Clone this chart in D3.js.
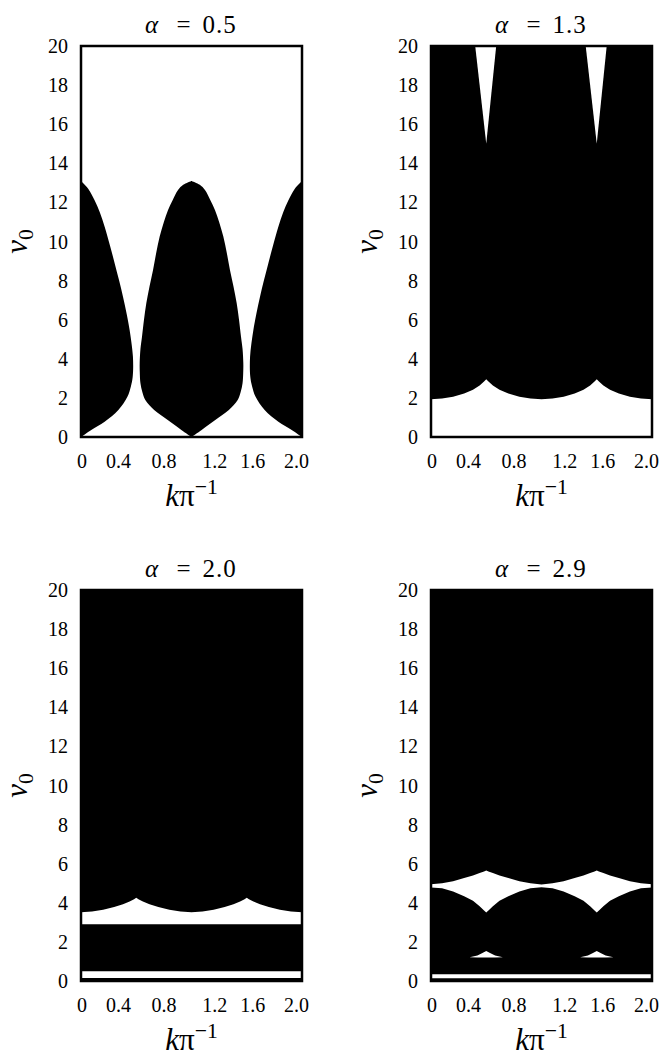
<!DOCTYPE html>
<html><head><meta charset="utf-8">
<script src="https://cdn.jsdelivr.net/npm/d3@7"></script>
</head><body style="margin:0">
<svg id="chart" width="665" height="1057"></svg>
<script>
// ---------------- data ----------------
const alphaValues = ["0.5", "1.3", "2.0", "2.9"];
const xTickLabels = ["0", "0.4", "0.8", "1.2", "1.6", "2.0"];
const xTickPositions = [0.01, 0.34, 0.75, 1.21, 1.555, 1.95];
const yTickValues = [0, 2, 4, 6, 8, 10, 12, 14, 16, 18, 20];

// alpha = 0.5 : black lobes ; half-width in k versus v0
const centreLobeK = [1];
const centreLobeV  = [0, 0.36, 0.87, 1.38, 1.89, 2.3, 2.75, 3.3, 3.77, 4.5, 5.13, 6.0, 6.84, 7.7, 8.54, 9.4, 10.25, 11.0, 11.6, 12.1, 12.63, 12.9, 13.1];
const centreLobeHW = [0, 0.092, 0.215, 0.338, 0.418, 0.445, 0.462, 0.468, 0.469, 0.462, 0.448, 0.43, 0.409, 0.38, 0.348, 0.32, 0.288, 0.25, 0.213, 0.172, 0.122, 0.075, 0];
const sideLobeK = [0, 2];
const sideLobeV  = [0, 0.36, 0.78, 1.38, 2.06, 2.6, 3.08, 4.1, 5.47, 6.3, 7.18, 8.0, 8.88, 9.8, 10.76, 11.5, 12.1, 12.7, 13.1];
const sideLobeHW = [0, 0.093, 0.214, 0.338, 0.42, 0.452, 0.468, 0.47, 0.44, 0.413, 0.38, 0.345, 0.305, 0.262, 0.214, 0.17, 0.124, 0.065, 0];

// common k grid for the periodic boundaries
const kGrid = [0, 0.1, 0.2, 0.3, 0.38, 0.44, 0.48, 0.5, 0.52, 0.56, 0.62, 0.7, 0.8, 0.9, 1.0,
               1.1, 1.2, 1.3, 1.38, 1.44, 1.48, 1.5, 1.52, 1.56, 1.62, 1.7, 1.8, 1.9, 2.0];

// alpha = 1.3 : white region above v0 = 0, its upper edge
const edge13 = [1.93, 1.97, 2.06, 2.22, 2.42, 2.64, 2.84, 2.95, 2.84, 2.64, 2.42, 2.22, 2.06, 1.97, 1.93,
                1.97, 2.06, 2.22, 2.42, 2.64, 2.84, 2.95, 2.84, 2.64, 2.42, 2.22, 2.06, 1.97, 1.93];
// alpha = 1.3 : white wedges hanging from the top
const wedgeK13 = [[0.40, 0.50, 0.59], [1.40, 1.50, 1.59]];
const wedgeV13 = [20, 15.0, 20];

// alpha = 2.0 : white strips
const strip20 = [0.15, 0.50];
const band20Low = 2.9;
const band20High = [3.52, 3.55, 3.64, 3.79, 3.93, 4.07, 4.18, 4.26, 4.18, 4.07, 3.93, 3.79, 3.64, 3.55, 3.52,
                    3.55, 3.64, 3.79, 3.93, 4.07, 4.18, 4.26, 4.18, 4.07, 3.93, 3.79, 3.64, 3.55, 3.52];

// alpha = 2.9 : white strips
const strip29 = [0.14, 0.34];
const band29Low  = [4.78, 4.75, 4.58, 4.34, 4.10, 3.82, 3.60, 3.50, 3.60, 3.82, 4.10, 4.34, 4.58, 4.75, 4.80,
                    4.75, 4.58, 4.34, 4.10, 3.82, 3.60, 3.50, 3.60, 3.82, 4.10, 4.34, 4.58, 4.75, 4.78];
const band29High = [4.95, 5.00, 5.10, 5.27, 5.40, 5.52, 5.60, 5.65, 5.60, 5.52, 5.40, 5.27, 5.10, 5.00, 4.93,
                    5.00, 5.10, 5.27, 5.40, 5.52, 5.60, 5.65, 5.60, 5.52, 5.40, 5.27, 5.10, 5.00, 4.95];
const sliverK = [[0.35, 0.42, 0.47, 0.50, 0.53, 0.58, 0.65], [1.35, 1.42, 1.47, 1.50, 1.53, 1.58, 1.65]];
const sliverLow  = [1.21, 1.20, 1.20, 1.20, 1.20, 1.20, 1.21];
const sliverHigh = [1.21, 1.31, 1.44, 1.53, 1.44, 1.31, 1.21];

// ---------------- layout ----------------
const FONT_LIST = "Liberation Serif, Tinos, Times New Roman, FreeSerif";
const cv = document.createElement("canvas").getContext("2d");
cv.font = "20px 'Liberation Serif', monospace"; cv.measureText("abcdefghijklmnop0123");
cv.font = "20px 'Liberation Serif', sans-serif"; cv.measureText("abcdefghijklmnop0123");

const svg = d3.select("#chart");
const W = 221, H = 391;
const panelOrigins = [[81, 46], [431, 46], [81, 590], [431, 590]];
const x = d3.scaleLinear().domain([0, 2]).range([0, W]);
const y = d3.scaleLinear().domain([0, 20]).range([H, 0]);

const TICK_FS = 20, TITLE_FS = 25, LABEL_FS = 31;

// ---- texts first, directly on the svg root ----
function txt(px, py, fs, anchor) {
  return svg.append("text").attr("x", px).attr("y", py)
    .attr("font-size", fs).attr("font-family", FONT_LIST)
    .attr("text-anchor", anchor);
}

alphaValues.forEach((alpha, i) => {
  const [ox, oy] = panelOrigins[i];
  const cx = ox + W / 2;
  // title
  txt(cx - 40, oy - 13, TITLE_FS, "middle").attr("font-style", "italic").text("α");
  txt(cx - 8, oy - 13, TITLE_FS, "middle").text("=");
  txt(cx + 28, oy - 13, TITLE_FS, "middle").attr("letter-spacing", 1).text(alpha);
  // y tick labels
  yTickValues.forEach(v => {
    txt(ox - 13, oy + y(v) + 7, TICK_FS, "end").text(String(v));
  });
  // x tick labels
  xTickLabels.forEach((lab, j) => {
    txt(ox + x(xTickPositions[j]), oy + H + 31, TICK_FS, "middle").text(lab);
  });
  // x label
  const xl = txt(cx, oy + H + 69, LABEL_FS, "middle");
  xl.append("tspan").attr("font-style", "italic").text("k");
  xl.append("tspan").text("π");
  xl.append("tspan").attr("font-size", LABEL_FS * 0.7).attr("dy", -12).text("−1");
  // y label (rotated)
  const lx = ox - 54, ly = oy + H / 2;
  const yl = txt(lx, ly, LABEL_FS, "middle").attr("transform", `rotate(-90,${lx},${ly})`);
  yl.append("tspan").attr("font-style", "italic").text("v");
  yl.append("tspan").attr("font-size", LABEL_FS * 0.7).attr("dy", 6).text("0");
});

// ---- plot regions ----
const areaK = d3.area().x(d => x(d.k)).y0(d => y(d.lo)).y1(d => y(d.hi)).curve(d3.curveLinear);
const areaV = d3.area().y(d => y(d.v)).x0(d => x(d.a)).x1(d => x(d.b)).curve(d3.curveCatmullRom.alpha(0.5));

function lobeShapes(centres, vs, hws) {
  return centres.map(c => ({fill: "#000", kind: "v",
    pts: vs.map((v, j) => ({v, a: c - hws[j], b: c + hws[j]}))}));
}

function regions(i) {
  if (i === 0) {
    return {bg: "#fff", shapes: lobeShapes(centreLobeK, centreLobeV, centreLobeHW)
      .concat(lobeShapes(sideLobeK, sideLobeV, sideLobeHW))};
  }
  if (i === 1) {
    const s = [{fill: "#fff", kind: "k", pts: kGrid.map((k, j) => ({k, lo: 0, hi: edge13[j]}))}];
    wedgeK13.forEach(ks => s.push({fill: "#fff", kind: "k",
      pts: ks.map((k, j) => ({k, lo: wedgeV13[j], hi: 20}))}));
    return {bg: "#000", shapes: s};
  }
  if (i === 2) {
    return {bg: "#000", shapes: [
      {fill: "#fff", kind: "k", pts: [0, 2].map(k => ({k, lo: strip20[0], hi: strip20[1]}))},
      {fill: "#fff", kind: "k", pts: kGrid.map((k, j) => ({k, lo: band20Low, hi: band20High[j]}))}
    ]};
  }
  const s = [
    {fill: "#fff", kind: "k", pts: [0, 2].map(k => ({k, lo: strip29[0], hi: strip29[1]}))},
    {fill: "#fff", kind: "k", pts: kGrid.map((k, j) => ({k, lo: band29Low[j], hi: band29High[j]}))}
  ];
  sliverK.forEach(ks => s.push({fill: "#fff", kind: "k",
    pts: ks.map((k, j) => ({k, lo: sliverLow[j], hi: sliverHigh[j]}))}));
  return {bg: "#000", shapes: s};
}

alphaValues.forEach((alpha, i) => {
  const [ox, oy] = panelOrigins[i];
  const g = svg.append("g").attr("transform", `translate(${ox},${oy})`);
  const clipId = "clip" + i;
  g.append("clipPath").attr("id", clipId).append("rect")
    .attr("x", x(0)).attr("y", y(20)).attr("width", x(2) - x(0)).attr("height", y(0) - y(20));

  const reg = regions(i);
  const plot = g.append("g").attr("clip-path", `url(#${clipId})`);
  plot.append("rect").attr("x", x(0)).attr("y", y(20))
    .attr("width", x(2) - x(0)).attr("height", y(0) - y(20)).attr("fill", reg.bg);
  reg.shapes.forEach(s => {
    plot.append("path").datum(s.pts)
      .attr("d", s.kind === "v" ? areaV : areaK)
      .attr("fill", s.fill).attr("stroke", "none");
  });

  // frame
  g.append("rect").attr("x", x(0)).attr("y", y(20))
    .attr("width", x(2) - x(0)).attr("height", y(0) - y(20))
    .attr("fill", "none").attr("stroke", "#000").attr("stroke-width", 2.5);
});
</script>
</body></html>
